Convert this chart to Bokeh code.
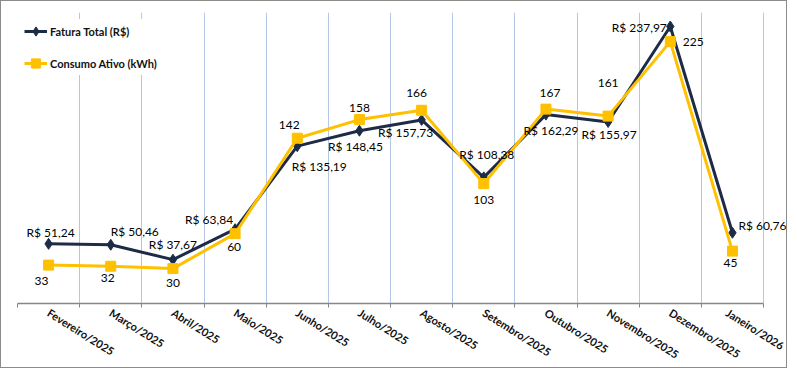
from bokeh.plotting import figure
from bokeh.models import ColumnDataSource, FixedTicker, Legend, LegendItem, LabelSet, Range1d
from bokeh.core.properties import value
from bokeh.embed import file_html
from bokeh.resources import INLINE

# ---- data ----
months = ["Fevereiro/2025", "Março/2025", "Abril/2025", "Maio/2025", "Junho/2025",
          "Julho/2025", "Agosto/2025", "Setembro/2025", "Outubro/2025",
          "Novembro/2025", "Dezembro/2025", "Janeiro/2026"]
fatura = [51.24, 50.46, 37.67, 63.84, 135.19, 148.45, 157.73, 108.38, 162.29, 155.97, 237.97, 60.76]
consumo = [33, 32, 30, 60, 142, 158, 166, 103, 167, 161, 225, 45]

fatura_labels = ["R$ " + f"{v:.2f}".replace(".", ",") for v in fatura]
consumo_labels = [str(v) for v in consumo]

# ---- label placement (screen px, +dy = down) ----
fat_dx = [2, 24, 0, -26, 22, -4, -16, 3, 5, 1, -31, 30]
fat_dy = [-11, -13, -15, -10, 20, 16, 13, -23, 16, 13, 1, -7]
con_dx = [-7, -3, 0, -1, -8, 0, -5, 0, 4, 0, 23, -2]
con_dy = [16, 12, 14, 13, -13, -12, -17, 16, -16, -33, 0, 12]

xs = list(range(len(months)))

FONT = "Lato"
NAVY = "#1E2B47"
GOLD = "#FFC000"
W, H = 787, 368
LEFT, TOP, BOTTOM = 16, 11, 65
CAT_PX = 62.17
x_end = -0.5 + (W - LEFT) / CAT_PX

p = figure(width=W, height=H, output_backend="svg", toolbar_location=None,
           x_range=Range1d(-0.5, x_end), y_range=Range1d(0, 250),
           y_axis_location=None, min_border_left=LEFT, min_border_top=TOP,
           min_border_right=0, min_border_bottom=BOTTOM,
           styles={"border": "1px solid #8C8C8C"})
p.outline_line_color = None
p.background_fill_color = "white"
p.border_fill_color = "white"

src_f = ColumnDataSource(dict(x=xs, y=fatura, t=fatura_labels, dx=fat_dx,
                              dy=[-d for d in fat_dy]))
src_c = ColumnDataSource(dict(x=xs, y=consumo, t=consumo_labels, dx=con_dx,
                              dy=[-d for d in con_dy]))

lf = p.line("x", "y", source=src_f, line_color=NAVY, line_width=3)
sf = p.scatter("x", "y", source=src_f, marker="diamond", size=11,
               fill_color=NAVY, line_color=NAVY)
lc = p.line("x", "y", source=src_c, line_color=GOLD, line_width=3)
sc = p.scatter("x", "y", source=src_c, marker="square", size=10,
               fill_color=GOLD, line_color=GOLD)

for src in (src_f, src_c):
    p.add_layout(LabelSet(x="x", y="y", text="t", source=src, x_offset="dx", y_offset="dy",
                          text_align="center", text_baseline="middle",
                          text_font=value(FONT), text_font_size="12px",
                          text_color="#000000"))

# axis
ax = p.xaxis[0]
ax.ticker = FixedTicker(ticks=xs, minor_ticks=[i - 0.5 for i in range(len(months) + 1)])
ax.bounds = (-0.5, len(months) - 0.5)
ax.major_label_overrides = {i: m for i, m in enumerate(months)}
ax.major_label_orientation = -0.56
ax.major_label_text_font = FONT
ax.major_label_text_font_style = "bold"
ax.major_label_text_font_size = "11px"
ax.major_label_text_color = "#111111"
ax.major_label_standoff = 4
ax.major_tick_line_color = None
ax.major_tick_out = 0
ax.major_tick_in = 0
ax.minor_tick_line_color = "#868686"
ax.minor_tick_line_width = 1
ax.minor_tick_out = 4
ax.minor_tick_in = 0
ax.axis_line_color = "#868686"
ax.axis_line_width = 1.5

p.xgrid.grid_line_color = None
p.xgrid.minor_grid_line_color = "#B4C7E7"
p.xgrid.minor_grid_line_width = 1
p.ygrid.grid_line_color = None

legend = Legend(items=[LegendItem(label="Fatura Total (R$)", renderers=[lf, sf]),
                       LegendItem(label="Consumo Ativo (kWh)", renderers=[lc, sc])],
                location="top_left", margin=7, padding=2, spacing=8,
                glyph_width=23, glyph_height=24, label_height=24, label_standoff=3,
                label_text_font=FONT, label_text_font_style="bold",
                label_text_font_size="11px", label_text_color="#111111",
                background_fill_color="white", background_fill_alpha=1.0,
                border_line_color=None)
p.add_layout(legend)

open("out.html", "w").write(file_html(p, INLINE))
